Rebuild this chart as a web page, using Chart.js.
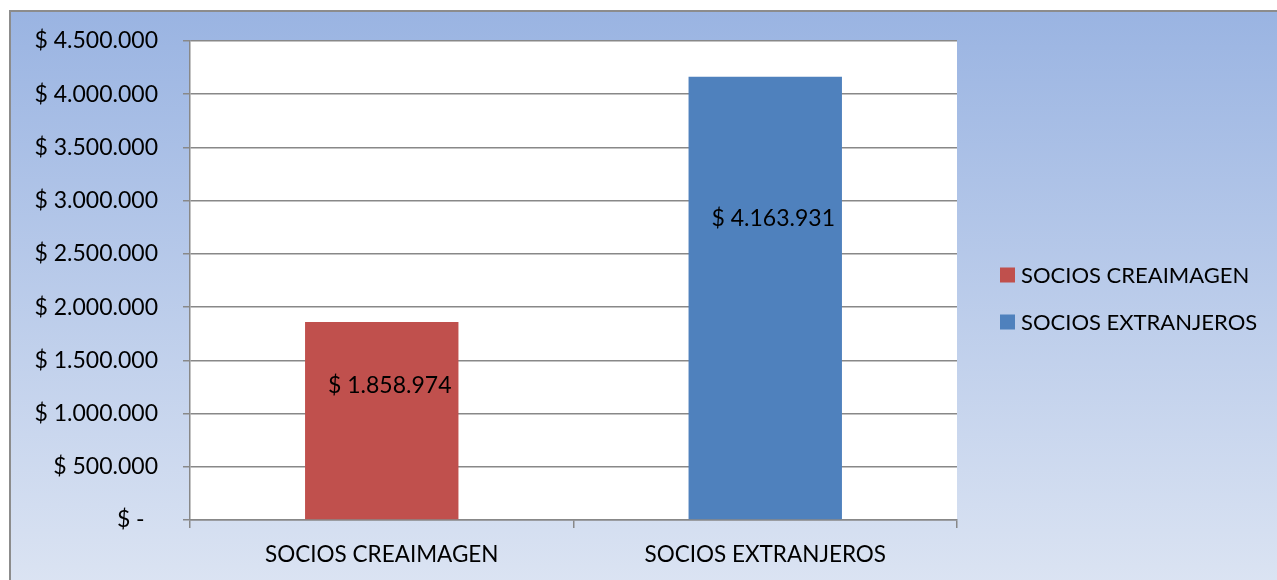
<!DOCTYPE html>
<html>
<head>
<meta charset="utf-8">
<script src="https://cdn.jsdelivr.net/npm/chart.js@4.4.0/dist/chart.umd.min.js"></script>
<style>
  html, body { margin: 0; padding: 0; background: #fff; overflow: hidden; }
  #marco {
    position: absolute; left: 9px; top: 10px;
    width: 1290px; height: 590px;
    border: 2px solid #8c8c8c;
    background: linear-gradient(to bottom, #9ab4e2 0%, #dde5f3 100%);
  }
  #grafico { position: absolute; left: 0; top: 0; }
</style>
</head>
<body>
<div id="marco"><canvas id="grafico" width="1266" height="568"></canvas></div>
<script>
// categorias y valores
var categorias = ["SOCIOS CREAIMAGEN", "SOCIOS EXTRANJEROS"];
var valores = [1858974, 4163931];
var colores = ["#c0504d", "#4f81bd"];
// etiquetas del eje Y (de 0 a 4.500.000)
var etiquetasEje = ["$ -\u2007", "$ 500.000", "$ 1.000.000", "$ 1.500.000", "$ 2.000.000",
  "$ 2.500.000", "$ 3.000.000", "$ 3.500.000", "$ 4.000.000", "$ 4.500.000"];

var fuente = "Lato, 'Liberation Sans', sans-serif";
Chart.defaults.font.family = fuente;
Chart.defaults.font.size = 22.5;
Chart.defaults.color = "#000";

function formato(v) {
  return "$ " + String(v).replace(/\B(?=(\d{3})+(?!\d))/g, ".");
}

// fondo blanco del area de trazado
var fondoArea = {
  id: "fondoArea",
  beforeDraw: function (chart) {
    var a = chart.chartArea, c = chart.ctx;
    c.save();
    c.fillStyle = "#fff";
    c.fillRect(a.left, a.top, a.right - a.left, a.bottom - a.top);
    c.restore();
  }
};

// etiquetas de datos dentro de las barras
var etiquetasDatos = {
  id: "etiquetasDatos",
  afterDatasetsDraw: function (chart) {
    var c = chart.ctx;
    var meta = chart.getDatasetMeta(0);
    c.save();
    c.font = "23px " + fuente;
    c.fillStyle = "#000";
    c.textAlign = "center";
    c.textBaseline = "middle";
    meta.data.forEach(function (bar, i) {
      var y = bar.y + (bar.base - bar.y) * 0.32;
      c.fillText(formato(valores[i]), bar.x + 8, y);
    });
    c.restore();
  }
};

// leyenda a la derecha
var leyenda = {
  id: "leyenda",
  afterDraw: function (chart) {
    var c = chart.ctx;
    var x = chart.chartArea.right + 43;
    var yc = chart.height / 2 + 2.5;
    c.save();
    c.font = "22px " + fuente;
    c.textBaseline = "middle";
    categorias.forEach(function (cat, i) {
      var y = yc + (i - 0.5) * 47;
      c.fillStyle = colores[i];
      c.fillRect(x, y - 7.5, 15, 15);
      c.fillStyle = "#000";
      c.fillText(cat, x + 21, y + 1);
    });
    c.restore();
  }
};

var myChart = new Chart(document.getElementById("grafico"), {
  type: "bar",
  data: {
    labels: categorias,
    datasets: [{
      data: valores,
      backgroundColor: colores,
      categoryPercentage: 1,
      barPercentage: 0.4
    }]
  },
  options: {
    responsive: false,
    animation: false,
    layout: { padding: { top: 29, right: 320, left: 0, bottom: 0 } },
    plugins: { legend: { display: false }, tooltip: { enabled: false } },
    scales: {
      x: {
        grid: { drawOnChartArea: false, drawTicks: true, tickLength: 8, color: "#888", lineWidth: 1.5 },
        border: { color: "#888", width: 1.5 },
        ticks: { padding: 13, font: { size: 22.5 } },
        afterFit: function (s) { s.height = 60; }
      },
      y: {
        min: 0,
        max: 4500000,
        ticks: {
          stepSize: 500000,
          padding: 25,
          font: { size: 23 },
          callback: function (v, i) { return etiquetasEje[i]; }
        },
        grid: { color: "#888", lineWidth: 1.5, tickLength: 7 },
        border: { color: "#888", width: 1.5 },
        afterFit: function (s) { s.width = 179; s.paddingTop = 0; s.paddingBottom = 0; }
      }
    }
  },
  plugins: [fondoArea, etiquetasDatos, leyenda]
});
</script>
</body>
</html>
